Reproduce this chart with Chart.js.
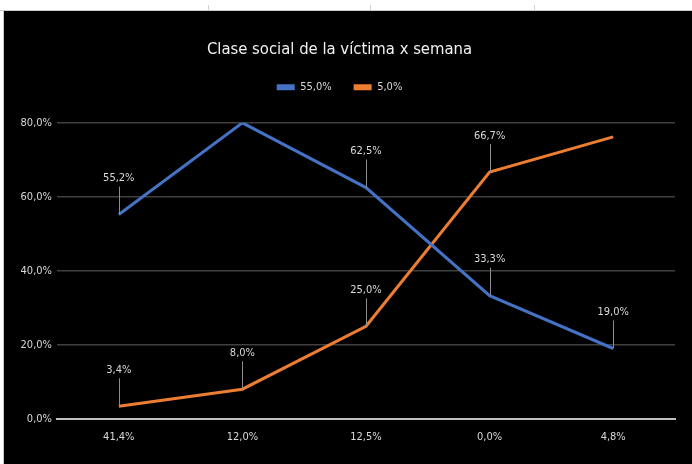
<!DOCTYPE html>
<html>
<head>
<meta charset="utf-8">
<script src="https://cdn.jsdelivr.net/npm/chart.js@4.4.1/dist/chart.umd.min.js"></script>
<style>
  html, body { margin: 0; padding: 0; background: #ffffff; width: 692px; height: 464px; overflow: hidden; }
  #strip { position: absolute; left: 0; top: 0; width: 692px; height: 10px; background: #ffffff; border-bottom: 1px solid #c8c8c8; }
  .cell { position: absolute; top: 5px; width: 1px; height: 5px; background: #d0d0d0; }
  #leftEdge { position: absolute; left: 3px; top: 10px; width: 1px; height: 454px; background: #c8c8c8; }
  #wrap { position: absolute; left: 4px; top: 11px; width: 688px; height: 453px; background: #000000; }
</style>
</head>
<body>
<div id="strip"></div>
<div class="cell" style="left:208px"></div>
<div class="cell" style="left:370px"></div>
<div class="cell" style="left:534px"></div>
<div id="leftEdge"></div>
<div id="wrap"><canvas id="c" width="688" height="453"></canvas></div>
<script>
const titleText = "Clase social de la víctima x semana";
const categories = ["41,4%", "12,0%", "12,5%", "0,0%", "4,8%"];
const seriesNames = ["55,0%", "5,0%"];
const blueValues = [55.2, 80.0, 62.5, 33.3, 19.0];
const orangeValues = [3.4, 8.0, 25.0, 66.7, 76.2];
const blueLabels = ["55,2%", null, "62,5%", "33,3%", "19,0%"];
const orangeLabels = ["3,4%", "8,0%", "25,0%", "66,7%", null];
const yTicks = [0, 20, 40, 60, 80];

const FONT = '"DejaVu Sans Condensed", "DejaVu Sans", sans-serif';
const TXT = '#d9d9d9';

const labelPlugin = {
  id: 'leaderLabels',
  afterDatasetsDraw(chart) {
    const ctx = chart.ctx;
    const sets = [blueLabels, orangeLabels];
    ctx.save();
    ctx.font = '11px ' + FONT;
    ctx.textAlign = 'center';
    ctx.textBaseline = 'middle';
    chart.data.datasets.forEach((ds, di) => {
      const meta = chart.getDatasetMeta(di);
      meta.data.forEach((pt, i) => {
        const txt = sets[di][i];
        if (!txt) return;
        const x = pt.x, y = pt.y;
        ctx.strokeStyle = '#8c8c8c';
        ctx.lineWidth = 1;
        ctx.beginPath();
        ctx.moveTo(Math.round(x) + 0.5, y - 28);
        ctx.lineTo(Math.round(x) + 0.5, y);
        ctx.stroke();
        ctx.fillStyle = TXT;
        ctx.fillText(txt, x, y - 36);
      });
    });
    ctx.restore();
  }
};

const legendSpace = {
  id: 'legendSpace',
  beforeInit(chart) {
    const origFit = chart.legend.fit;
    chart.legend.fit = function () {
      origFit.bind(chart.legend)();
      this.height += 20;
    };
  }
};

new Chart(document.getElementById('c'), {
  type: 'line',
  data: {
    labels: categories,
    datasets: [
      { label: seriesNames[0], data: blueValues, borderColor: '#4472C4', backgroundColor: '#4472C4', borderWidth: 3, pointRadius: 0, tension: 0 },
      { label: seriesNames[1], data: orangeValues, borderColor: '#ED7D31', backgroundColor: '#ED7D31', borderWidth: 3, pointRadius: 0, tension: 0 }
    ]
  },
  plugins: [labelPlugin, legendSpace],
  options: {
    responsive: false,
    animation: false,
    layout: { padding: { left: 0, right: 17, top: 0, bottom: 8 } },
    plugins: {
      title: {
        display: true,
        text: titleText,
        color: '#f2f2f2',
        font: { family: FONT, size: 16.5, weight: 'normal' },
        padding: { top: 29, bottom: 0 }
      },
      legend: {
        display: true,
        labels: {
          color: TXT,
          font: { family: FONT, size: 11 },
          boxWidth: 18,
          boxHeight: 6,
          padding: 22,
          generateLabels(chart) {
            return chart.data.datasets.map((d, i) => ({
              text: d.label, fillStyle: d.borderColor, strokeStyle: d.borderColor,
              lineWidth: 0, hidden: false, datasetIndex: i, fontColor: TXT
            }));
          }
        }
      },
      tooltip: { enabled: false }
    },
    scales: {
      x: {
        offset: true,
        grid: { display: false, drawTicks: false },
        border: { display: true, color: '#bfbfbf', width: 2 },
        ticks: { color: TXT, font: { family: FONT, size: 11 }, padding: 12 }
      },
      y: {
        min: 0, max: 80,
        afterFit(scale) { scale.width = 53; },
        afterBuildTicks(scale) { scale.ticks = yTicks.map(v => ({ value: v })); },
        grid: {
          drawTicks: false,
          color: (c) => c.tick && c.tick.value === 0 ? '#bfbfbf' : '#404040',
          lineWidth: (c) => c.tick && c.tick.value === 0 ? 2 : 1.5
        },
        border: { display: false },
        ticks: {
          color: TXT, font: { family: FONT, size: 11 }, padding: 5,
          callback: (v) => v.toFixed(1).replace('.', ',') + '%'
        }
      }
    }
  }
});
</script>
</body>
</html>
